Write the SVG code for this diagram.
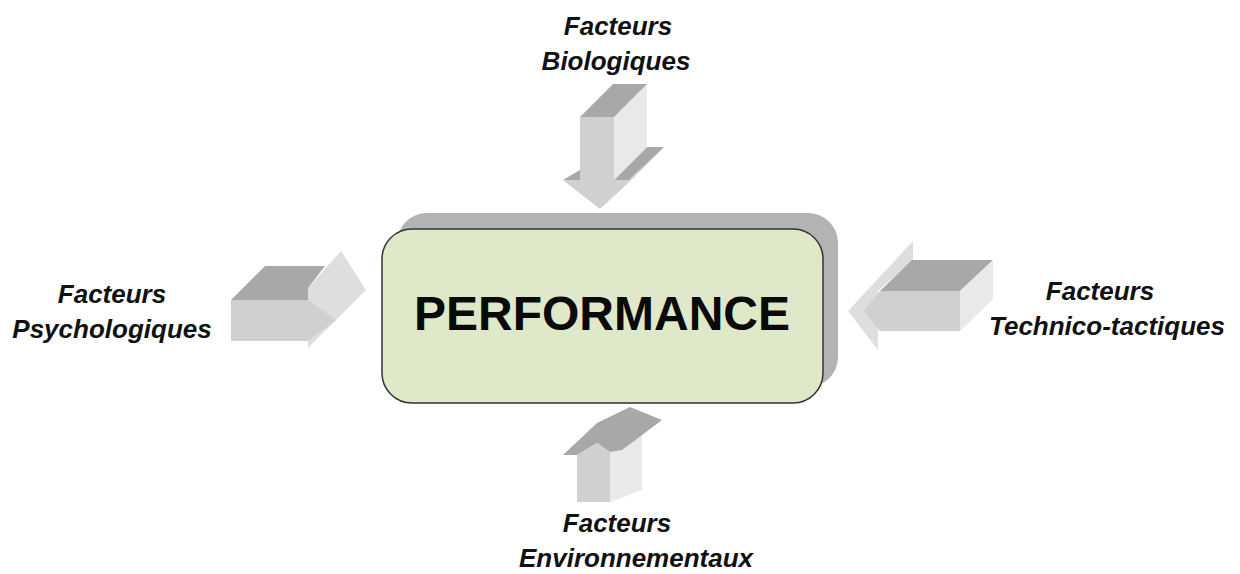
<svg xmlns="http://www.w3.org/2000/svg" width="1240" height="574" viewBox="0 0 1240 574">
<style>
.lbl{font-family:"Liberation Sans",Arial,sans-serif;font-weight:bold;font-style:italic;font-size:26px;fill:#111;text-anchor:middle}
.title{font-family:"Liberation Sans",Arial,sans-serif;font-weight:bold;font-size:48px;fill:#0a0a0a;text-anchor:middle}
.top{fill:#a8a8a8}
.front{fill:#d0d0d0}
.side{fill:#e9e9e9}
.head{fill:#dedede}
</style>
<rect width="1240" height="574" fill="#ffffff"/>
<g id="performance">
  <rect x="397" y="213" width="441" height="174" rx="30" fill="#b3b3b3"/>
  <rect x="382" y="229" width="441" height="174" rx="30" fill="#dfe9c9" stroke="#333" stroke-width="1.5"/>
  <text class="title" x="602" y="330">PERFORMANCE</text>
</g>
<g id="connectors">
  <g id="arrow-bio">
    <polygon class="top" points="563,180 580,180 580,170"/>
    <polygon class="top" points="614,180 631,180 664,147 647,147"/>
    <polygon class="head" points="631,180 664,147 632,177 600,209"/>
    <polygon class="front" points="563,180 631,180 600,209"/>
    <polygon class="side" points="614,117 647,84 647,147 614,180"/>
    <polygon class="front" points="580,117 614,117 614,181 580,181"/>
    <polygon class="top" points="580,117 614,117 647,84 613,84"/>
  </g>
  <g id="arrow-psy">
    <polygon class="head" points="308,288 341,251 366,290 308,348"/>
    <polygon class="front" points="231,300 308,300 336,320 308,341 231,341"/>
    <polygon class="top" points="231,300 265,266 325,266 308,288 308,300"/>
  </g>
  <g id="arrow-tech">
    <polygon class="head" points="913,241 848,311 878,350 878,291 913,260"/>
    <polygon class="front" points="880,291 960,291 960,331 880,331 864,311"/>
    <polygon class="top" points="880,291 912,260 993,260 960,291"/>
    <polygon class="side" points="960,291 993,260 993,299 960,331"/>
  </g>
  <g id="arrow-env">
    <polygon class="side" points="610,452 622,450 642,433 642,490 610,502"/>
    <polygon class="top" points="563,455 597,423 630,407 662,420 622,450 610,452 597,443 577,455"/>
    <polygon class="front" points="577,455 597,443 610,452 610,502 577,502"/>
  </g>
</g>
<g id="label-bio">
  <text class="lbl" x="618" y="35">Facteurs</text>
  <text class="lbl" x="616" y="70">Biologiques</text>
</g>
<g id="label-psy">
  <text class="lbl" x="112" y="303">Facteurs</text>
  <text class="lbl" x="112" y="338">Psychologiques</text>
</g>
<g id="label-tech">
  <text class="lbl" x="1100" y="300">Facteurs</text>
  <text class="lbl" x="1107" y="335">Technico-tactiques</text>
</g>
<g id="label-env">
  <text class="lbl" x="617" y="532">Facteurs</text>
  <text class="lbl" x="636" y="567">Environnementaux</text>
</g>
</svg>
